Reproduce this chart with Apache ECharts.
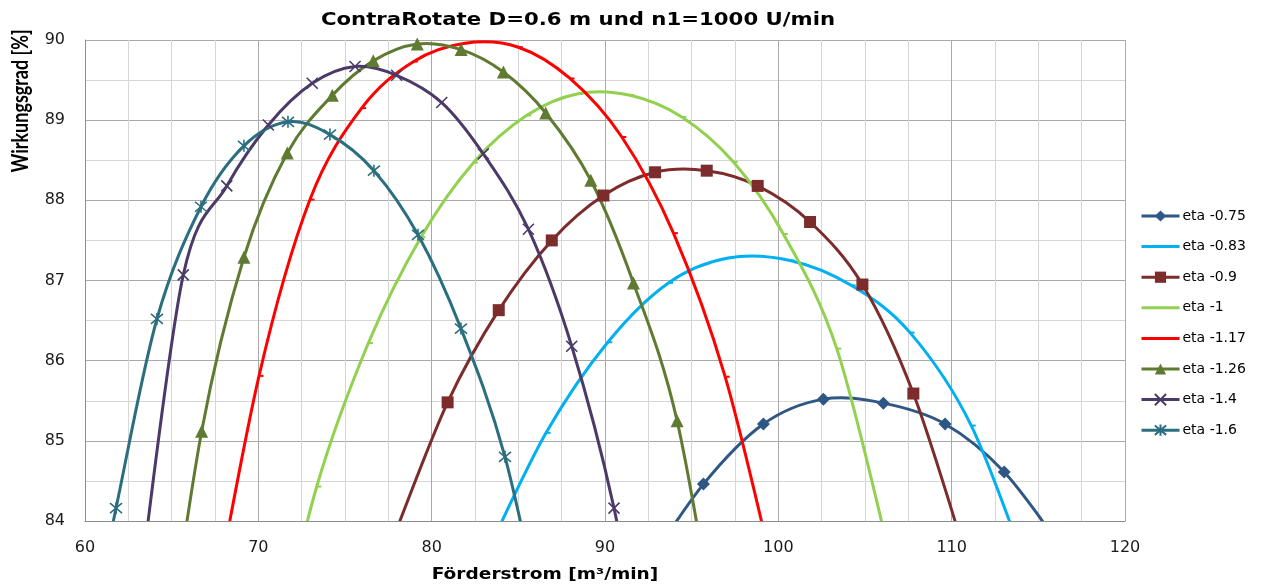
<!DOCTYPE html>
<html>
<head>
<meta charset="utf-8">
<title>ContraRotate D=0.6 m und n1=1000 U/min</title>
<script src="https://cdn.jsdelivr.net/npm/echarts@6/dist/echarts.min.js"></script>
<style>
  html, body { margin: 0; padding: 0; background: #fff; }
  #chart { width: 1261px; height: 586px; }
</style>
</head>
<body>
<div id="chart"></div>
<script>
// Axis ticks
const xTicks = [60, 70, 80, 90, 100, 110, 120];
const yTicks = [84, 85, 86, 87, 88, 89, 90];

// Efficiency curves: [Förderstrom m³/min, Wirkungsgrad %]
const eta075 = [[92.22, 83.38], [95.68, 84.46], [99.14, 85.21], [102.60, 85.52], [106.06, 85.47], [109.62, 85.21], [113.03, 84.61], [116.5, 83.62]];
const eta083 = [[83.1, 83.56], [86.6, 85.10], [90.16, 86.23], [93.66, 86.97], [97.1, 87.28], [100.68, 87.25], [104.2, 86.94], [107.6, 86.35], [111.13, 85.19], [114.6, 83.25]];
const eta09  = [[77.95, 83.88], [80.92, 85.48], [83.87, 86.63], [86.93, 87.50], [89.91, 88.06], [92.89, 88.35], [95.87, 88.37], [98.81, 88.18], [101.83, 87.73], [104.85, 86.95], [107.79, 85.59], [110.77, 83.6]];
const eta1   = [[70.4, 81.8], [73.37, 84.43], [76.35, 86.22], [79.38, 87.54], [82.41, 88.47], [85.49, 89.06], [88.45, 89.33], [91.45, 89.31], [94.43, 89.04], [97.4, 88.48], [100.29, 87.58], [103.37, 86.15], [106.4, 83.6]];
const eta117 = [[67.06, 82.5], [70.04, 85.81], [72.98, 88.01], [75.96, 89.15], [78.94, 89.73], [81.92, 89.96], [85.0, 89.91], [87.98, 89.52], [90.97, 88.79], [93.95, 87.59], [96.93, 85.80], [99.9, 83.2]];
const eta126 = [[64.2, 81.5], [66.73, 85.12], [69.17, 87.29], [71.67, 88.59], [74.27, 89.31], [76.63, 89.74], [79.17, 89.95], [81.70, 89.88], [84.14, 89.60], [86.58, 89.09], [89.18, 88.25], [91.64, 86.97], [94.16, 85.25], [96.7, 82.2]];
const eta14  = [[63.17, 83.2], [65.67, 87.07], [68.18, 88.18], [70.58, 88.94], [73.11, 89.46], [75.58, 89.67], [77.98, 89.56], [80.58, 89.22], [82.98, 88.58], [85.58, 87.64], [88.08, 86.18], [90.52, 84.16], [93.0, 81.3]];
const eta16  = [[59.3, 81.5], [61.79, 84.16], [64.15, 86.52], [66.69, 87.92], [69.17, 88.68], [71.71, 88.98], [74.13, 88.82], [76.67, 88.37], [79.21, 87.57], [81.69, 86.40], [84.23, 84.80], [86.7, 82.4]];

const seriesNames = ['eta -0.75', 'eta -0.83', 'eta -0.9', 'eta -1', 'eta -1.17', 'eta -1.26', 'eta -1.4', 'eta -1.6'];

const FONT = '"DejaVu Sans", Verdana, sans-serif';
const NARROW_FONT = 'Lato, "Open Sans", sans-serif';

// marker shapes
const X_MARK = 'path://M0,0L10,10M10,0L0,10';
const STAR_MARK = 'path://M0,0L10,10M10,0L0,10M5,-1L5,11';
const DASH_MARK = 'rect';

const colors = ['#2f5786', '#00b0f0', '#7b2c2b', '#92d050', '#ff0000', '#5f7a31', '#4b3a68', '#2b6e7f'];
const curves = [eta075, eta083, eta09, eta1, eta117, eta126, eta14, eta16];
const markers = [
  { symbol: 'diamond', size: 13 },
  { symbol: DASH_MARK, size: [5, 2], dash: true },
  { symbol: 'rect', size: 12 },
  { symbol: DASH_MARK, size: [5, 2], dash: true },
  { symbol: DASH_MARK, size: [5, 2], dash: true },
  { symbol: 'triangle', size: 13 },
  { symbol: X_MARK, size: 11, stroked: true },
  { symbol: STAR_MARK, size: 12, stroked: true }
];

// Smooth curve through the points (Catmull-Rom, converted to cubic Bézier segments)
function splinePath(pts) {
  let d = 'M' + pts[0][0] + ' ' + pts[0][1];
  for (let i = 0; i < pts.length - 1; i++) {
    const p0 = pts[i - 1] || pts[i];
    const p1 = pts[i];
    const p2 = pts[i + 1];
    const p3 = pts[i + 2] || p2;
    const c1x = p1[0] + (p2[0] - p0[0]) / 6;
    const c1y = p1[1] + (p2[1] - p0[1]) / 6;
    const c2x = p2[0] - (p3[0] - p1[0]) / 6;
    const c2y = p2[1] - (p3[1] - p1[1]) / 6;
    d += ' C' + c1x + ' ' + c1y + ' ' + c2x + ' ' + c2y + ' ' + p2[0] + ' ' + p2[1];
  }
  return d;
}

function curveSeries(data, color) {
  return {
    type: 'custom',
    coordinateSystem: 'cartesian2d',
    data: data,
    clip: true,
    silent: true,
    z: 2,
    renderItem: function (params, api) {
      if (params.dataIndexInside !== 0) return null;
      const pts = data.map(function (p) { return api.coord(p); });
      return {
        type: 'path',
        shape: { pathData: splinePath(pts) },
        style: { stroke: color, lineWidth: 3, fill: 'none', lineJoin: 'round', lineCap: 'round' }
      };
    }
  };
}

function markerSeries(name, data, color, m) {
  const s = {
    name: name,
    type: 'line',
    data: data,
    clip: true,
    z: 3,
    symbol: m.symbol,
    symbolSize: m.size,
    showSymbol: true,
    lineStyle: { color: color, width: 3, opacity: 0 },
    itemStyle: { color: color },
    emphasis: { disabled: true },
    silent: true
  };
  if (m.stroked) s.itemStyle = { color: color, borderColor: color, borderWidth: 1.6 };
  if (m.dash) s.symbolOffset = [2, 0];
  return s;
}

const series = [];
const legendData = [];
curves.forEach(function (data, i) {
  series.push(curveSeries(data, colors[i]));
  series.push(markerSeries(seriesNames[i], data, colors[i], markers[i]));
  const item = { name: seriesNames[i], lineStyle: { color: colors[i], width: 3, opacity: 1 } };
  if (markers[i].dash) item.itemStyle = { opacity: 0 };
  legendData.push(item);
});

const chart = echarts.init(document.getElementById('chart'), null, { renderer: 'canvas' });

chart.setOption({
  animation: false,
  backgroundColor: '#ffffff',
  legend: {
    orient: 'vertical',
    left: 1135,
    top: 204,
    itemWidth: 38,
    itemHeight: 14,
    itemGap: 16.6,
    data: legendData,
    textStyle: { fontFamily: FONT, fontSize: 14, color: '#000', padding: [0, 0, 0, -2] },
    selectedMode: false
  },
  grid: { left: 85, right: 136, top: 40, bottom: 65, containLabel: false },
  xAxis: {
    type: 'value',
    min: xTicks[0],
    max: xTicks[xTicks.length - 1],
    interval: xTicks[1] - xTicks[0],
    axisLine: { show: true, onZero: false, lineStyle: { color: '#8c8c8c', width: 1 } },
    axisTick: { show: false },
    axisLabel: { fontFamily: FONT, fontSize: 16, color: '#1a1a1a', margin: 19 },
    splitLine: { show: true, lineStyle: { color: '#a9a9a9', width: 1 } },
    minorTick: { show: false, splitNumber: 4 },
    minorSplitLine: { show: true, lineStyle: { color: '#d6d6d6', width: 1 } }
  },
  yAxis: {
    type: 'value',
    min: yTicks[0],
    max: yTicks[yTicks.length - 1],
    interval: yTicks[1] - yTicks[0],
    axisLine: { show: true, onZero: false, lineStyle: { color: '#8c8c8c', width: 1 } },
    axisTick: { show: false },
    axisLabel: { fontFamily: FONT, fontSize: 16, color: '#1a1a1a', margin: 20 },
    splitLine: { show: true, lineStyle: { color: '#a9a9a9', width: 1 } },
    minorTick: { show: false, splitNumber: 2 },
    minorSplitLine: { show: true, lineStyle: { color: '#d6d6d6', width: 1 } }
  },
  graphic: [
    {
      type: 'text',
      x: 578,
      y: 20,
      scaleX: 1.18,
      style: {
        text: 'ContraRotate D=0.6 m und n1=1000 U/min',
        font: 'bold 18px ' + FONT,
        fill: '#000',
        align: 'center',
        verticalAlign: 'middle'
      }
    },
    {
      type: 'text',
      x: 21,
      y: 101,
      rotation: Math.PI / 2,
      scaleY: 1.25,
      style: {
        text: 'Wirkungsgrad [%]',
        font: 'bold 18px ' + NARROW_FONT,
        fill: '#000',
        align: 'center',
        verticalAlign: 'middle'
      }
    },
    {
      type: 'text',
      x: 545,
      y: 575,
      scaleX: 1.16,
      style: {
        text: 'Förderstrom [m³/min]',
        font: 'bold 16px ' + FONT,
        fill: '#000',
        align: 'center',
        verticalAlign: 'middle'
      }
    }
  ],
  series: series
});
</script>
</body>
</html>
